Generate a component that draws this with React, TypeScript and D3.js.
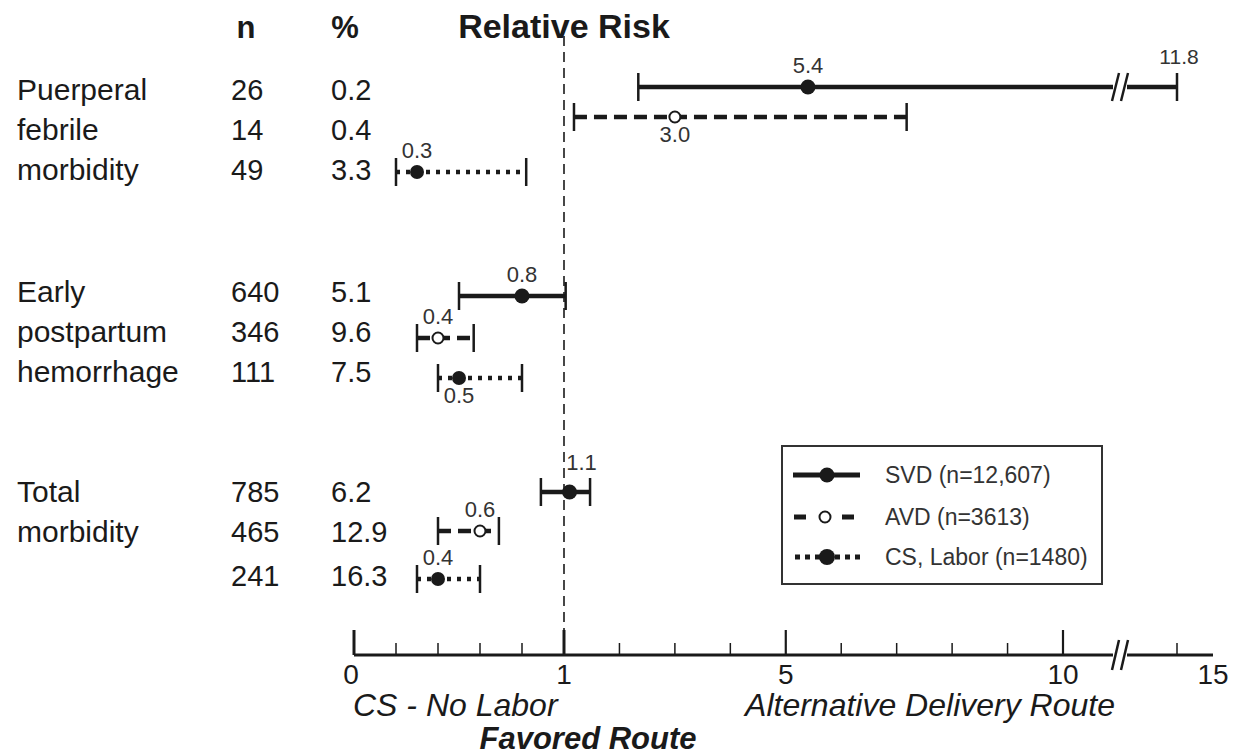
import React from 'react';
import * as d3 from 'd3';

// table columns
const rowLabels = [
  ['Puerperal', 'febrile', 'morbidity'],
  ['Early', 'postpartum', 'hemorrhage'],
  ['Total', 'morbidity', ''],
];
const nValues = [
  [26, 14, 49],
  [640, 346, 111],
  [785, 465, 241],
];
const pctValues = [
  ['0.2', '0.4', '3.3'],
  ['5.1', '9.6', '7.5'],
  ['6.2', '12.9', '16.3'],
];

// relative risk with 95% CI, one entry per outcome group
const seriesNames = ['SVD (n=12,607)', 'AVD (n=3613)', 'CS, Labor (n=1480)'];
const svdRR = [5.4, 0.8, 1.1];
const svdLow = [2.34, 0.5, 0.89];
const svdHigh = [11.8, 1.03, 1.47];
const avdRR = [3.0, 0.4, 0.6];
const avdLow = [1.18, 0.3, 0.4];
const avdHigh = [7.18, 0.57, 0.69];
const csRR = [0.3, 0.5, 0.4];
const csLow = [0.2, 0.4, 0.3];
const csHigh = [0.82, 0.8, 0.6];

const majorTicks = [0, 1, 5, 10];
const minorTicks = [0.2, 0.4, 0.6, 0.8, 2, 3, 4, 6, 7, 8, 9, 11.8];
const tickLabels = [0, 1, 5, 10, 15];

const FONT = 'Liberation Sans, Arial, Helvetica, sans-serif';
const INK = '#1a1a1a';

// broken axis: 0-1 stretched, 1-10 linear, compressed after the break
const x = d3.scaleLinear().domain([0, 1, 10, 11.8, 15]).range([354, 564, 1063, 1177, 1213]);
const breakX = x(10.9);
const axisY = 655;

const groupBase = [100, 302, 502];
const rowStep = 40;
const rowY = (g: number, r: number) => groupBase[g] + rowStep * r + (g === 2 && r === 2 ? 4 : 0);
// small vertical nudges of each bar relative to its text row
const barShift = [
  [-3, -13, 2],
  [4, 6, 6],
  [0, -1, 3],
];

const series = [
  { rr: svdRR, lo: svdLow, hi: svdHigh, dash: undefined as string | undefined, open: false, r: 7.5 },
  { rr: avdRR, lo: avdLow, hi: avdHigh, dash: '13 7', open: true, r: 5.5 },
  { rr: csRR, lo: csLow, hi: csHigh, dash: '4 6', open: false, r: 7 },
];
// label below the bar for these (series, group)
const labelBelow = new Set(['1-0', '2-1']);

const Slashes = ({ cx, cy, h }: { cx: number; cy: number; h: number }) => (
  <g>
    <rect x={cx - 7} y={cy - 4} width={14} height={8} fill="#fff" />
    <line x1={cx - 8} y1={cy + h} x2={cx - 1} y2={cy - h} stroke={INK} strokeWidth={2.5} />
    <line x1={cx + 1} y1={cy + h} x2={cx + 8} y2={cy - h} stroke={INK} strokeWidth={2.5} />
  </g>
);

const App: React.FC = () => {
  const bars: React.ReactNode[] = [];
  series.forEach((s, si) => {
    s.rr.forEach((v, g) => {
      const y = rowY(g, si) - 10 + barShift[g][si];
      const x0 = x(s.lo[g]);
      const x1 = x(s.hi[g]);
      const cx = x(v);
      const below = labelBelow.has(`${si}-${g}`);
      const isTotalSvd = si === 0 && g === 2;
      bars.push(
        <g key={`${si}-${g}`}>
          <line x1={x0} x2={x1} y1={y} y2={y} stroke={INK} strokeWidth={4.5} strokeDasharray={s.dash} />
          <line x1={x0} x2={x0} y1={y - 14} y2={y + 14} stroke={INK} strokeWidth={2.5} />
          <line x1={x1} x2={x1} y1={y - 14} y2={y + 14} stroke={INK} strokeWidth={2.5} />
          {s.hi[g] > 10 && <Slashes cx={breakX} cy={y} h={14} />}
          <circle cx={cx} cy={y} r={s.r} fill={s.open ? '#fff' : INK} stroke={INK} strokeWidth={s.open ? 2 : 0} />
          <text
            x={isTotalSvd ? cx + 12 : cx}
            y={below ? y + 25 : isTotalSvd ? y - 22 : y - 14}
            textAnchor="middle"
            fontSize={22}
            fill="#333"
            fontFamily={FONT}
          >
            {d3.format('.1f')(v)}
          </text>
          {s.hi[g] > 10 && (
            <text x={x1 + 2} y={y - 23} textAnchor="middle" fontSize={21} fill="#333" fontFamily={FONT}>
              {d3.format('.1f')(s.hi[g])}
            </text>
          )}
        </g>
      );
    });
  });

  const legendX = 782;
  const legendY = 446;
  const legendRows = [475, 517, 557];

  return (
    <svg width={1234} height={756} style={{ position: 'absolute', left: 0, top: 0, background: '#fff' }}>
      <rect width={1234} height={756} fill="#fff" />
      {/* headers */}
      <g fontFamily={FONT} fontWeight="bold" fill={INK}>
        <text x={246} y={38} fontSize={31} textAnchor="middle">n</text>
        <text x={345} y={38} fontSize={31} textAnchor="middle">%</text>
        <text x={x(1)} y={38} fontSize={34} textAnchor="middle">Relative Risk</text>
      </g>

      {/* table rows */}
      <g fontFamily={FONT} fill={INK}>
        {rowLabels.map((rows, g) =>
          rows.map((lab, r) => (
            <g key={`${g}-${r}`}>
              <text x={17} y={rowY(g, r)} fontSize={30}>{lab}</text>
              <text x={231} y={rowY(g, r)} fontSize={29}>{nValues[g][r]}</text>
              <text x={331} y={rowY(g, r)} fontSize={29}>{pctValues[g][r]}</text>
            </g>
          ))
        )}
      </g>

      {/* reference line at RR = 1 */}
      <line x1={x(1)} x2={x(1)} y1={36} y2={axisY} stroke={INK} strokeWidth={1.6} strokeDasharray="10 6" />

      {bars}

      {/* axis */}
      <line x1={x(0)} x2={x(15)} y1={axisY} y2={axisY} stroke={INK} strokeWidth={3} />
      {majorTicks.map((t) => (
        <line key={t} x1={x(t)} x2={x(t)} y1={axisY} y2={axisY - 25} stroke={INK} strokeWidth={t <= 1 ? 3 : 2.2} />
      ))}
      {minorTicks.map((t) => (
        <line key={t} x1={x(t)} x2={x(t)} y1={axisY} y2={axisY - 12} stroke={INK} strokeWidth={1.5} />
      ))}
      <Slashes cx={breakX} cy={axisY} h={15} />
      <g fontFamily={FONT} fontSize={28} fill={INK} textAnchor="middle">
        {tickLabels.map((t) => (
          <text key={t} x={t === 0 ? x(t) - 3 : x(t)} y={684}>{t}</text>
        ))}
      </g>
      <g fontFamily={FONT} fontSize={32} fill={INK} fontStyle="italic">
        <text x={353} y={716}>CS - No Labor</text>
        <text x={930} y={716} textAnchor="middle">Alternative Delivery Route</text>
        <text x={588} y={749} textAnchor="middle" fontWeight="bold" fontSize={31}>Favored Route</text>
      </g>

      {/* legend */}
      <rect x={legendX} y={legendY} width={320} height={138} fill="#fff" stroke="#333" strokeWidth={2} />
      <g>
        <line x1={793} x2={860} y1={legendRows[0]} y2={legendRows[0]} stroke={INK} strokeWidth={5} />
        <circle cx={827} cy={legendRows[0]} r={7.5} fill={INK} />
        <line x1={794} x2={806} y1={legendRows[1]} y2={legendRows[1]} stroke={INK} strokeWidth={5} />
        <line x1={842} x2={854} y1={legendRows[1]} y2={legendRows[1]} stroke={INK} strokeWidth={5} />
        <circle cx={825} cy={legendRows[1]} r={5.5} fill="#fff" stroke={INK} strokeWidth={2} />
        <line x1={795} x2={861} y1={legendRows[2]} y2={legendRows[2]} stroke={INK} strokeWidth={5} strokeDasharray="5 5" />
        <circle cx={827} cy={legendRows[2]} r={8} fill={INK} />
        {seriesNames.map((nm, i) => (
          <text key={nm} x={885} y={legendRows[i] + 8} fontSize={23} fill="#333" fontFamily={FONT}>{nm}</text>
        ))}
      </g>
    </svg>
  );
};

export default App;
